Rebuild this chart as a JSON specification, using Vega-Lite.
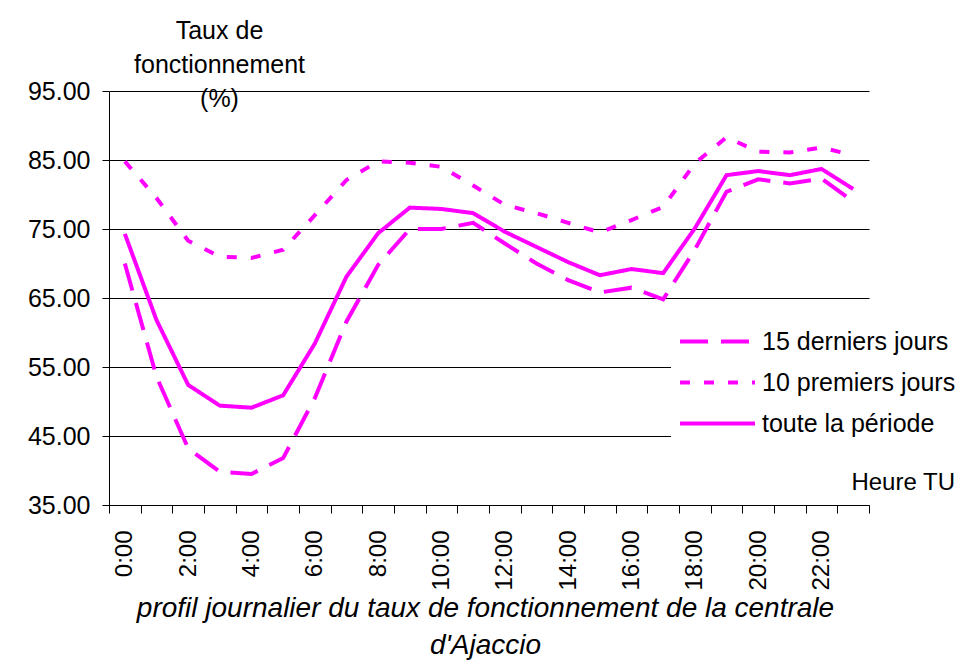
{
  "$schema": "https://vega.github.io/schema/vega-lite/v6.json",
  "autosize": {"type": "none"},
  "padding": {"left": 109, "top": 91, "right": 96, "bottom": 158},
  "width": 760,
  "height": 414,
  "background": "white",
  "config": {
    "font": "Liberation Sans",
    "view": {"stroke": null},
    "axis": {"labelColor": "black", "titleColor": "black", "domainColor": "black", "tickColor": "black", "labelFont": "Liberation Sans", "titleFont": "Liberation Sans"}
  },
  "data": {
    "values": [
      {"hour": 0, "serie": "15 derniers jours", "taux": 70.0},
      {"hour": 1, "serie": "15 derniers jours", "taux": 53.6},
      {"hour": 2, "serie": "15 derniers jours", "taux": 43.2},
      {"hour": 3, "serie": "15 derniers jours", "taux": 39.8},
      {"hour": 4, "serie": "15 derniers jours", "taux": 39.5},
      {"hour": 5, "serie": "15 derniers jours", "taux": 41.8},
      {"hour": 6, "serie": "15 derniers jours", "taux": 50.5},
      {"hour": 7, "serie": "15 derniers jours", "taux": 61.6},
      {"hour": 8, "serie": "15 derniers jours", "taux": 69.8},
      {"hour": 9, "serie": "15 derniers jours", "taux": 75.0},
      {"hour": 10, "serie": "15 derniers jours", "taux": 75.0},
      {"hour": 11, "serie": "15 derniers jours", "taux": 75.9},
      {"hour": 12, "serie": "15 derniers jours", "taux": 72.9},
      {"hour": 13, "serie": "15 derniers jours", "taux": 70.0},
      {"hour": 14, "serie": "15 derniers jours", "taux": 67.6},
      {"hour": 15, "serie": "15 derniers jours", "taux": 65.8},
      {"hour": 16, "serie": "15 derniers jours", "taux": 66.5},
      {"hour": 17, "serie": "15 derniers jours", "taux": 64.8},
      {"hour": 18, "serie": "15 derniers jours", "taux": 72.0},
      {"hour": 19, "serie": "15 derniers jours", "taux": 80.4},
      {"hour": 20, "serie": "15 derniers jours", "taux": 82.2},
      {"hour": 21, "serie": "15 derniers jours", "taux": 81.6},
      {"hour": 22, "serie": "15 derniers jours", "taux": 82.3},
      {"hour": 23, "serie": "15 derniers jours", "taux": 79.0},
      {"hour": 0, "serie": "10 premiers jours", "taux": 84.8},
      {"hour": 1, "serie": "10 premiers jours", "taux": 79.5},
      {"hour": 2, "serie": "10 premiers jours", "taux": 73.3},
      {"hour": 3, "serie": "10 premiers jours", "taux": 71.0},
      {"hour": 4, "serie": "10 premiers jours", "taux": 70.8},
      {"hour": 5, "serie": "10 premiers jours", "taux": 72.0},
      {"hour": 6, "serie": "10 premiers jours", "taux": 77.0},
      {"hour": 7, "serie": "10 premiers jours", "taux": 82.1},
      {"hour": 8, "serie": "10 premiers jours", "taux": 84.8},
      {"hour": 9, "serie": "10 premiers jours", "taux": 84.6},
      {"hour": 10, "serie": "10 premiers jours", "taux": 84.0},
      {"hour": 11, "serie": "10 premiers jours", "taux": 81.3},
      {"hour": 12, "serie": "10 premiers jours", "taux": 78.5},
      {"hour": 13, "serie": "10 premiers jours", "taux": 77.3},
      {"hour": 14, "serie": "10 premiers jours", "taux": 75.9},
      {"hour": 15, "serie": "10 premiers jours", "taux": 74.5},
      {"hour": 16, "serie": "10 premiers jours", "taux": 76.3},
      {"hour": 17, "serie": "10 premiers jours", "taux": 78.2},
      {"hour": 18, "serie": "10 premiers jours", "taux": 84.5},
      {"hour": 19, "serie": "10 premiers jours", "taux": 88.3},
      {"hour": 20, "serie": "10 premiers jours", "taux": 86.2},
      {"hour": 21, "serie": "10 premiers jours", "taux": 86.1},
      {"hour": 22, "serie": "10 premiers jours", "taux": 86.8},
      {"hour": 23, "serie": "10 premiers jours", "taux": 85.7},
      {"hour": 0, "serie": "toute la période", "taux": 74.3},
      {"hour": 1, "serie": "toute la période", "taux": 61.8},
      {"hour": 2, "serie": "toute la période", "taux": 52.4},
      {"hour": 3, "serie": "toute la période", "taux": 49.4},
      {"hour": 4, "serie": "toute la période", "taux": 49.1},
      {"hour": 5, "serie": "toute la période", "taux": 50.9},
      {"hour": 6, "serie": "toute la période", "taux": 58.4},
      {"hour": 7, "serie": "toute la période", "taux": 68.1},
      {"hour": 8, "serie": "toute la période", "taux": 74.4},
      {"hour": 9, "serie": "toute la période", "taux": 78.1},
      {"hour": 10, "serie": "toute la période", "taux": 77.9},
      {"hour": 11, "serie": "toute la période", "taux": 77.3},
      {"hour": 12, "serie": "toute la période", "taux": 74.6},
      {"hour": 13, "serie": "toute la période", "taux": 72.4},
      {"hour": 14, "serie": "toute la période", "taux": 70.2},
      {"hour": 15, "serie": "toute la période", "taux": 68.3},
      {"hour": 16, "serie": "toute la période", "taux": 69.2},
      {"hour": 17, "serie": "toute la période", "taux": 68.6},
      {"hour": 18, "serie": "toute la période", "taux": 75.1},
      {"hour": 19, "serie": "toute la période", "taux": 82.8},
      {"hour": 20, "serie": "toute la période", "taux": 83.4},
      {"hour": 21, "serie": "toute la période", "taux": 82.8},
      {"hour": 22, "serie": "toute la période", "taux": 83.7},
      {"hour": 23, "serie": "toute la période", "taux": 80.8}
    ]
  },
  "mark": {"type": "line", "color": "#ff00ff", "strokeWidth": 4, "strokeCap": "butt"},
  "encoding": {
    "x": {
      "field": "hour",
      "type": "ordinal",
      "bandPosition": 0.5,
      "scale": {"type": "band", "paddingInner": 0, "paddingOuter": 0},
      "axis": {
        "tickBand": "extent",
        "labelExpr": "datum.value % 2 == 0 ? datum.value + ':00' : ''",
        "labelAngle": -90,
        "labelFontSize": 24,
        "labelPadding": 17,
        "labelOverlap": false,
        "tickSize": 8,
        "domainWidth": 1,
        "grid": false,
        "title": ["profil journalier du taux de fonctionnement de la centrale", "d'Ajaccio"],
        "titleFontSize": 28,
        "titleFontStyle": "italic",
        "titleFontWeight": "normal",
        "titleLineHeight": 37,
        "titleAnchor": "middle",
        "titleAlign": "center",
        "titleBaseline": "alphabetic",
        "titleX": 376,
        "titleY": 111
      }
    },
    "y": {
      "field": "taux",
      "type": "quantitative",
      "scale": {"domain": [35, 95], "nice": false, "zero": false},
      "axis": {
        "values": [35, 45, 55, 65, 75, 85, 95],
        "format": ".2f",
        "labelFontSize": 25,
        "labelPadding": 12,
        "tickSize": 7,
        "grid": true,
        "gridColor": "black",
        "gridWidth": 1,
        "gridOpacity": 1,
        "title": ["Taux de", "fonctionnement", "(%)"],
        "titleAngle": 0,
        "titleFontSize": 25,
        "titleFontWeight": "normal",
        "titleAlign": "center",
        "titleBaseline": "alphabetic",
        "titleLineHeight": 34,
        "titleX": 110,
        "titleY": -53
      }
    },
    "strokeDash": {
      "field": "serie",
      "type": "nominal",
      "scale": {
        "domain": ["15 derniers jours", "10 premiers jours", "toute la période"],
        "range": [[28, 13], [10, 14], [1, 0]]
      },
      "legend": {
        "orient": "none",
        "legendX": 562,
        "legendY": 231,
        "fillColor": "white",
        "padding": 5,
        "symbolType": "M-3,0L3,0",
        "symbolSize": 625,
        "symbolStrokeWidth": 4,
        "symbolStrokeColor": "#ff00ff",
        "symbolOffset": 27,
        "labelOffset": 30,
        "labelFontSize": 25,
        "labelColor": "black",
        "labelFont": "Liberation Sans",
        "labelLimit": 400,
        "rowPadding": 13,
        "title": "Heure TU",
        "titleOrient": "bottom",
        "titleAnchor": "end",
        "titleFontSize": 24,
        "titleFontWeight": "normal",
        "titleColor": "black",
        "titleFont": "Liberation Sans",
        "titlePadding": 34
      }
    }
  }
}
